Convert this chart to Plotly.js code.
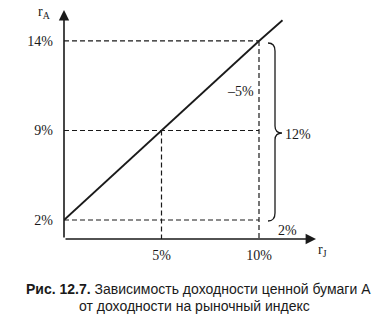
<!DOCTYPE html>
<html>
<head>
<meta charset="utf-8">
<script src="https://cdn.plot.ly/plotly-3.0.1.min.js"></script>
<style>html,body{margin:0;padding:0;background:#fff;}#chart{width:380px;height:322px;}</style>
</head>
<body>
<div id="chart"></div>
<script>
// ---- data ----
var rJ = [0, 5, 10];            // market index return, %
var rA = [2, 9, 14];            // security A return, %
var xTicks = [5, 10];
var yLabels = rA.map(function (v) { return v + '%'; });
var deltaLabel = '\u20135%';
var spanLabel = '12%';
var lowLabel = '2%';

// ---- layout geometry ----
var W = 380, H = 322;
var M = {l: 64, r: 64, t: 10, b: 83};
var PW = W - M.l - M.r, PH = H - M.t - M.b;
function px(x) { return (x - M.l) / PW; }
function py(y) { return (M.t + PH - y) / PH; }
var xRange = [0, 12.923];
var yRange = [-0.212, 2.346];
var serif = 'Liberation Serif, Times New Roman, serif';
var sans = 'Liberation Sans, Arial, sans-serif';
var ink = '#1a1a1a';
var dash = '5px,3px';

var traces = [];
// horizontal dashed guides (from y axis to r_J = 10%)
rA.forEach(function (v, i) {
  traces.push({
    x: [rJ[0], rJ[rJ.length - 1]], y: [yLabels[i], yLabels[i]],
    mode: 'lines', line: {color: ink, width: 1.2, dash: dash},
    hoverinfo: 'skip', showlegend: false, cliponaxis: false
  });
});
// main line
traces.push({
  x: rJ, y: yLabels, mode: 'lines',
  line: {color: ink, width: 1.8}, hoverinfo: 'skip', showlegend: false, cliponaxis: false
});

var shapes = [];
// vertical dashed guides down to the x axis
[1, 2].forEach(function (i) {
  shapes.push({type: 'line', xref: 'x', yref: 'y',
    x0: rJ[i], x1: rJ[i], y0: i, y1: yRange[0],
    line: {color: ink, width: 1.2, dash: dash}});
});
// curly brace
function P(x, y) { return px(x).toFixed(4) + ',' + py(y).toFixed(4); }
var bracePath = 'M' + P(268, 43) + ' Q' + P(275, 43) + ' ' + P(275, 51) +
  ' L' + P(275, 126) + ' Q' + P(275, 133) + ' ' + P(282, 133) +
  ' Q' + P(275, 133) + ' ' + P(275, 140) +
  ' L' + P(275, 213) + ' Q' + P(275, 221) + ' ' + P(268, 221);
shapes.push({type: 'path', xref: 'paper', yref: 'paper', path: bracePath,
  line: {color: ink, width: 1.3}});

function txt(text, x, y, size, family) {
  return {text: text, xref: 'paper', yref: 'paper', x: px(x), y: py(y),
    xanchor: 'center', yanchor: 'middle', showarrow: false,
    font: {family: family || serif, size: size, color: ink}};
}

var last = rJ.length - 1;
var annotations = [
  // axes with arrowheads
  {xref: 'paper', yref: 'paper', x: 1, y: 0, ax: -PW, ay: 0, axref: 'pixel', ayref: 'pixel',
   text: '', showarrow: true, arrowhead: 2, arrowsize: 1.3, arrowwidth: 1.6, arrowcolor: ink, standoff: 0},
  {xref: 'paper', yref: 'paper', x: 0, y: 1, ax: 0, ay: PH, axref: 'pixel', ayref: 'pixel',
   text: '', showarrow: true, arrowhead: 2, arrowsize: 1.3, arrowwidth: 1.6, arrowcolor: ink, standoff: 0},
  // continuation of the line past the last point
  {xref: 'x', yref: 'y', x: rJ[last], y: last, ax: 25, ay: -22,
   text: '', showarrow: true, arrowhead: 0, arrowwidth: 1.8, arrowcolor: ink, standoff: 0},
  txt('r<sub>A</sub>', 44, 12, 14),
  txt('r<sub>J</sub>', 322, 251, 14),
  txt(deltaLabel, 240, 91, 14),
  txt(spanLabel, 298, 134, 14),
  txt(lowLabel, 287, 230, 14),
  txt('<b>Рис. 12.7.</b> Зависимость доходности ценной бумаги А', 198, 289, 14, sans),
  txt('от доходности на рыночный индекс', 194, 306, 14, sans)
];

var layout = {
  width: W, height: H, margin: M,
  paper_bgcolor: '#fff', plot_bgcolor: '#fff',
  showlegend: false,
  xaxis: {type: 'linear', range: xRange, showgrid: false, zeroline: false, showline: false,
    tickvals: xTicks, ticktext: xTicks.map(function (v) { return v + '%'; }),
    ticks: '', ticklabelstandoff: 6, tickfont: {family: serif, size: 14, color: ink}, fixedrange: true},
  yaxis: {type: 'category', categoryarray: yLabels, categoryorder: 'array', range: yRange,
    showgrid: false, zeroline: false, showline: false, ticks: '', ticklabelstandoff: 10,
    tickfont: {family: serif, size: 14, color: ink}, fixedrange: true},
  shapes: shapes,
  annotations: annotations
};

Plotly.newPlot('chart', traces, layout, {displayModeBar: false, staticPlot: true});
</script>
</body>
</html>
